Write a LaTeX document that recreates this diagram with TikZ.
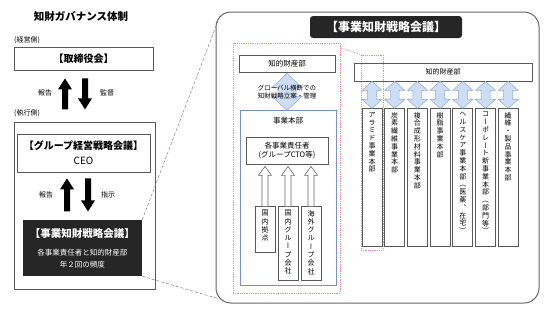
\documentclass[tikz,border=0pt]{standalone}
\usepackage{fontspec}
\setmainfont{Noto Sans CJK JP}
\newfontfamily\tatefont[RawFeature=+vert]{Noto Sans CJK JP}
\usetikzlibrary{positioning, calc}

\definecolor{armfill}{RGB}{205,221,243}
\definecolor{armline}{RGB}{140,170,215}
\definecolor{honbublue}{RGB}{120,145,200}
\definecolor{zonered}{RGB}{250,140,150}

\tikzset{
  pics/dblarr/.style n args={5}{code={
    \path[#5] (0,0) -- (#2/2,#3) -- (#4/2,#3) -- (#4/2,#1-#3) -- (#2/2,#1-#3)
      -- (0,#1) -- (-#2/2,#1-#3) -- (-#4/2,#1-#3) -- (-#4/2,#3) -- (-#2/2,#3) -- cycle;}},
  pics/uparr/.style n args={5}{code={
    \path[#5] (0,0) -- (#2/2,#3) -- (#4/2,#3) -- (#4/2,#1) -- (-#4/2,#1)
      -- (-#4/2,#3) -- (-#2/2,#3) -- cycle;}}
}

\begin{document}
\begin{tikzpicture}[x=1pt, y=-1pt,
  frame/.style={draw=black!65, line width=0.8pt},
  blackbox/.style={fill=black!85, text=white},
  redzone/.style={draw=zonered, densely dotted, line width=0.8pt},
  tatebox/.style={frame, minimum width=20pt, anchor=north},
  tate/.style={font=\tatefont\fontsize{7}{7.8}\selectfont, align=center, anchor=north, inner sep=0pt},
  small/.style={font=\fontsize{7}{9}\selectfont},
  bigarr/.style={fill=black},
  hollowarr/.style={draw=black!60, fill=white, line width=0.6pt},
  bluearr/.style={draw=armline, fill=armfill, line width=0.5pt},
  zoomline/.style={densely dashed, draw=black!50, line width=0.5pt}
]
\useasboundingbox (0,0) rectangle (552,319);

% governance side
\node[font=\bfseries\fontsize{10.5}{12}\selectfont] (title) at (81,17) {知財ガバナンス体制};
\node[small, anchor=west, inner sep=0pt] (keiei) at (14,40) {(経営側)};
\node[frame, minimum width=139pt, minimum height=23pt, font=\bfseries\fontsize{10}{12}\selectfont] (tori) at (83.5,58.5) {【取締役会】};
\pic at ($(tori.south)+(-18.5,8)$) {uparr={31}{14}{11}{6}{bigarr}};
\pic[rotate=180] at ($(tori.south)+(1.5,39)$) {uparr={31}{14}{11}{6}{bigarr}};
\node[small] (houkoku1) at (45,93) {報告};
\node[small] (kantoku) at (107,93) {監督};

\node[small, anchor=west, inner sep=0pt] (shikko-label) at (14,113) {(執行側)};
\node[frame, minimum width=141pt, minimum height=167pt] (shikko) at (84.5,205.5) {};
\node[frame, minimum width=133pt, minimum height=38pt, align=center, font=\fontsize{10}{15}\selectfont] (group) at (83.5,153) {{\bfseries【グループ経営戦略会議】}\\CEO};
\pic at ($(group.south)+(-16.5,6)$) {uparr={33}{14}{11}{6}{bigarr}};
\pic[rotate=180] at ($(group.south)+(4.5,39)$) {uparr={33}{14}{11}{6}{bigarr}};
\node[small] (houkoku2) at (46,195) {報告};
\node[small] (shiji) at (108,195) {指示};

\node[blackbox, minimum width=119pt, minimum height=56pt, align=center] (kaigi) at (82.5,248)
  {{\bfseries\fontsize{10.5}{13}\selectfont【事業知財戦略会議】}\\[6pt]
   {\fontsize{7.5}{10}\selectfont 各事業責任者と知的財産部}\\
   {\fontsize{7.5}{10}\selectfont 年２回の頻度}};

% zoomed meeting panel
\node[frame, draw=black!60, line width=1pt, rounded corners=15pt, minimum width=323pt, minimum height=291pt] (panel) at (377.5,157.5) {};
\draw[zoomline] (kaigi.north east) -- ([shift={(4.4pt,-4.4pt)}]panel.north west);
\draw[zoomline] (kaigi.south east) -- ([shift={(4.4pt,4.4pt)}]panel.south west);
\node[blackbox, rounded corners=3pt, minimum width=152pt, minimum height=22pt, font=\bfseries\fontsize{12}{14}\selectfont] (rtitle) at (386,27) {【事業知財戦略会議】};

\node[redzone, minimum width=107pt, minimum height=250pt] (ipzone) at (286.5,168) {};
\node[redzone, minimum width=22pt, minimum height=195pt] (aramidzone) at (372,152.5) {};
\draw[redzone] ([yshift=-5pt]ipzone.north east) -- (aramidzone.north west);

\node[frame, minimum width=96pt, minimum height=17pt, font=\fontsize{7.5}{9}\selectfont] (chizai) at (287,63.5) {知的財産部};
\node[draw=honbublue, line width=0.8pt, minimum width=96pt, minimum height=175pt] (honbu) at (288,197.5) {};
\pic at ($(chizai.south)+(0,1)$) {dblarr={37}{30}{14}{18}{bluearr}};
\node[font=\fontsize{6.5}{8}\selectfont, align=center] (kanri) at (287,92) {グローバル横断での\\知財戦略立案・管理};
\node[font=\fontsize{7.5}{9}\selectfont, below=4pt of honbu.north] (honbu-label) {事業本部};
\node[frame, minimum width=82pt, minimum height=27pt, align=center, font=\fontsize{7.5}{9.5}\selectfont] (sekinin) at (287,150.5) {各事業責任者\\(グループCTO等)};

\foreach \n/\x/\h/\txt in {kyoten/265/46pt/{国\\内\\拠\\点},
    kokunai/288/74pt/{国\\内\\グ\\ル\\ー\\プ\\会\\社},
    kaigai/311/74pt/{海\\外\\グ\\ル\\ー\\プ\\会\\社}} {
  \node[tatebox, minimum height=\h] (\n) at (\x,206) {};
  \node[tate, font=\tatefont\fontsize{7}{8.3}\selectfont] at ([yshift=-4pt]\n.north) {\txt};
  \pic at ($(\n.north |- sekinin.south)+(0,2)$) {uparr={40}{13}{9}{6}{hollowarr}};
}

% business units
\node[frame, minimum width=178pt, minimum height=18pt, font=\fontsize{7}{9}\selectfont] (chizai2) at (443,72) {知的財産部};
\foreach \i/\txt in {1/{ア\\ラ\\ミ\\ド\\事\\業\\本\\部},
    2/{炭\\素\\繊\\維\\事\\業\\本\\部},
    3/{複\\合\\成\\形\\材\\料\\事\\業\\本\\部},
    4/{樹\\脂\\事\\業\\本\\部},
    5/{ヘ\\ル\\ス\\ケ\\ア\\事\\業\\本\\部\\（\\医\\薬\\、\\在\\宅\\）},
    6/{コ\\ー\\ポ\\レ\\ー\\ト\\新\\事\\業\\本\\部\\（\\部\\門\\等\\）},
    7/{繊\\維\\・\\製\\品\\事\\業\\本\\部}} {
  \node[tatebox, minimum height=138pt] (col\i) at ({372+(\i-1)*22.7},108) {};
  \node[tate] at ([yshift=-4pt]col\i.north) {\txt};
  \pic at (col\i.north |- chizai2.south) {dblarr={27}{20}{9}{9}{bluearr}};
}
\end{tikzpicture}
\end{document}
